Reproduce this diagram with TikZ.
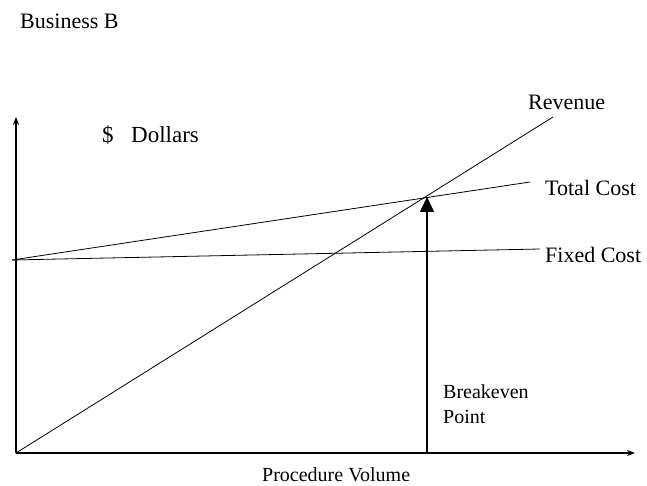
\documentclass[tikz,border=0pt]{standalone}
\usepackage{fontspec}
\setmainfont{Liberation Serif}
\usetikzlibrary{arrows.meta}
\begin{document}
\begin{tikzpicture}[x=1pt,y=-1pt,
  lbl/.style={anchor=base west,inner sep=0pt,font=\fontsize{22}{26}\selectfont},
  smalllbl/.style={lbl,font=\fontsize{20}{24}\selectfont},
  axisline/.style={line width=1.6pt,-{Stealth[length=8pt,width=6pt]}},
  thinline/.style={line width=0.8pt},
  bearrow/.style={line width=1.6pt,-{Triangle[length=15pt,width=14pt]}}]
\useasboundingbox (0,0) rectangle (647,486);
\coordinate (O) at (16,453);
\coordinate (Ytop) at (16,117);
\coordinate (Xend) at (635,453);
\coordinate (F0) at (12,260);
\coordinate (Fend) at (540,249);
\coordinate (Tend) at (530,182);
\coordinate (Rend) at (553,117);
\coordinate (B0) at (427,453);
\coordinate (BE) at (427,197);
\draw[axisline] (O) -- (Ytop);
\draw[axisline] (O) -- (Xend);
\draw[thinline] (F0) -- (Fend);
\draw[thinline] (F0) -- (Tend);
\draw[thinline] (O) -- (Rend);
\draw[bearrow] (B0) -- (BE);
\node[lbl] (title) at (20,29) {Business B};
\node[lbl,font=\fontsize{23}{27}\selectfont] (dollar) at (102,143) {\$};
\node[lbl,font=\fontsize{23}{27}\selectfont] (dollars) at (131,143) {Dollars};
\node[lbl] (rev) at (528,110) {Revenue};
\node[lbl] (tc) at (545,196) {Total Cost};
\node[lbl] (fc) at (545,262) {Fixed Cost};
\node[smalllbl] (be1) at (443,398) {Breakeven};
\node[smalllbl] (be2) at (443,423) {Point};
\node[smalllbl] (pv) at (262,481) {Procedure Volume};
\end{tikzpicture}
\end{document}
